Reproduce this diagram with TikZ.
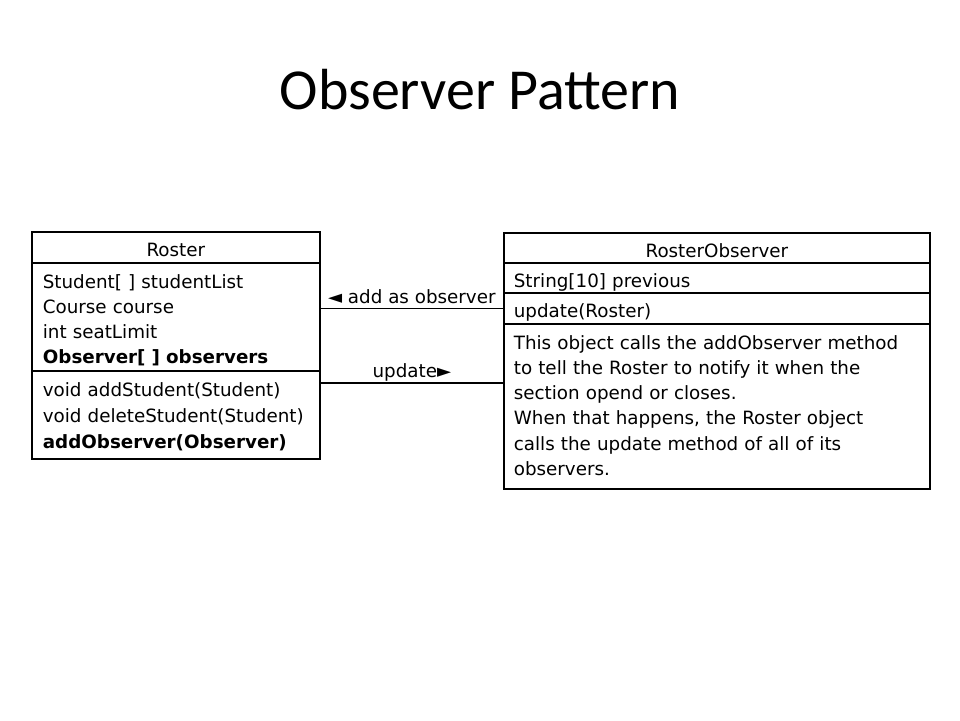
\documentclass[tikz,border=0pt]{standalone}
\usepackage{fontspec}
\newfontfamily\umlfont{DejaVu Sans}
\newfontfamily\titlefont{Carlito}
\begin{document}
\begin{tikzpicture}[x=1pt, y=-1pt,
		box/.style={draw, line width=1.7pt, anchor=north west, inner xsep=10pt, inner ysep=0pt, font=\umlfont\fontsize{18.3}{25.1}\selectfont},
		oneline/.style={box, text height=19pt, text depth=0pt},
		link/.style={line width=1.7pt},
		lbl/.style={anchor=base, font=\umlfont\fontsize{18.3}{25.1}\selectfont}]
		\useasboundingbox (0,0) rectangle (960,720);
		\draw (480,109) node[anchor=base, font=\titlefont\fontsize{58}{70}\selectfont](title){Observer Pattern};
		% Roster
		\draw (31,231) node[oneline, minimum width=288pt, minimum height=31pt](rosterName){Roster};
		\draw (31,262) node[box, inner xsep=11pt, minimum width=288pt, minimum height=108pt, text width=266pt, text height=21.4pt, align=left](rosterAttr){Student[ ] studentList\\Course course\\int seatLimit\\\textbf{Observer[ ] observers}};
		\draw (31,370) node[box, inner xsep=11pt, minimum width=288pt, minimum height=88pt, text width=266pt, text height=17.8pt, align=left, font=\umlfont\fontsize{18.3}{26.1}\selectfont](rosterOps){void addStudent(Student)\\void deleteStudent(Student)\\\textbf{addObserver(Observer)}};
		% RosterObserver
		\draw (503,232) node[oneline, minimum width=426pt, minimum height=30pt](obsName){RosterObserver};
		\draw (503,262) node[oneline, minimum width=426pt, minimum height=30pt, text width=406pt, align=left](obsAttr){String[10] previous};
		\draw (503,292) node[oneline, minimum width=426pt, minimum height=31pt, text width=406pt, align=left](obsOp){update(Roster)};
		\draw (503,323) node[box, minimum width=426pt, minimum height=165pt, text width=406pt, text height=12.1pt, align=left, font=\umlfont\fontsize{18.3}{25.3}\selectfont](obsNote){This object calls the addObserver method\\to tell the Roster to notify it when the\\section opend or closes.\\When that happens, the Roster object\\calls the update method of all of its\\observers.};
		% links
		\coordinate (upd) at ([yshift=-13pt]rosterOps.north east);
		\draw[link] (obsOp.west) -- (obsOp.west -| rosterAttr.east) node[lbl, midway, yshift=5pt]{◄ add as observer};
		\draw[link] (upd) -- (upd -| obsNote.west) node[lbl, midway, yshift=6pt]{update►};
	\end{tikzpicture}
\end{document}
